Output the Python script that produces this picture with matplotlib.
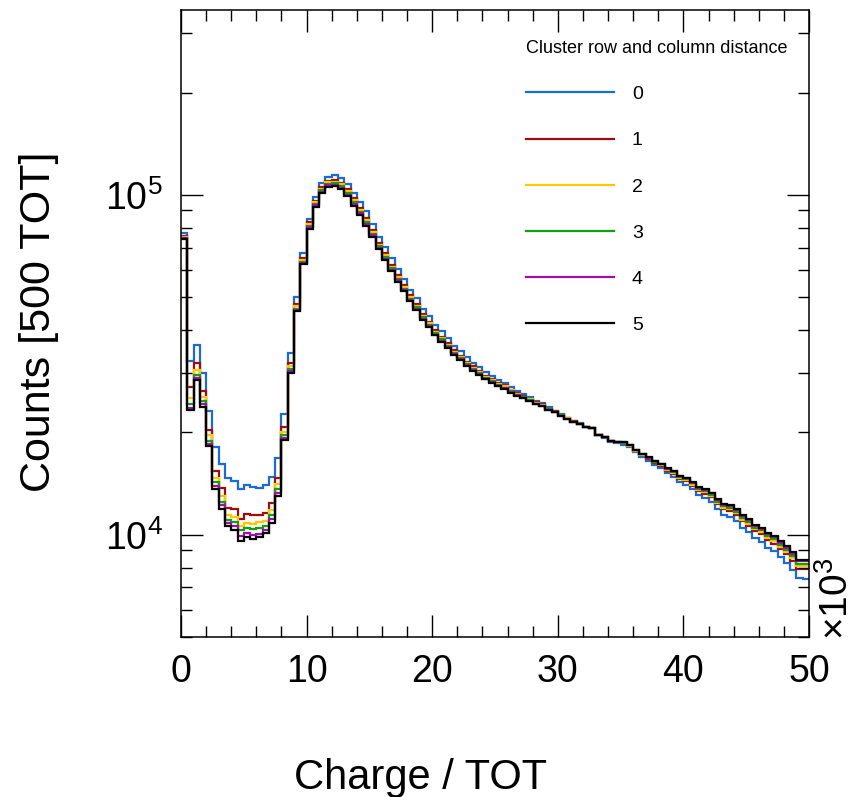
import numpy as np
import matplotlib
matplotlib.use("Agg")
import matplotlib.pyplot as plt
from matplotlib.ticker import MultipleLocator, LogLocator, NullFormatter

plt.rcParams['font.family'] = ['Liberation Sans', 'DejaVu Sans']
plt.rcParams['mathtext.fontset'] = 'custom'
plt.rcParams['mathtext.rm'] = 'Liberation Sans'
plt.rcParams['mathtext.default'] = 'regular'

# 100 bins of 500 TOT, x axis in units of 10^3 TOT
bin_edges = np.linspace(0, 50, 101)

labels = ['0', '1', '2', '3', '4', '5']
colors = ['#1a6ad8', '#a00c0c', '#ffc800', '#10a010', '#a010a8', '#000000']

dist0 = [77000, 32400, 36200, 29900, 23100, 18100, 16200, 14700, 14400, 13600,
         14000, 13800, 13700, 14000, 14800, 16800, 22600, 34200, 50000, 67300,
         85000, 98300, 108200, 113200, 114500, 112000, 107500, 101600, 95200, 89400,
         82200, 75400, 70200, 65000, 60400, 56400, 52600, 49600, 46300, 43900,
         41500, 39700, 37800, 36000, 34700, 33300, 32100, 31200, 30200, 29300,
         28500, 28000, 27200, 26500, 26000, 25400, 24800, 24400, 23700, 23200,
         22700, 22100, 21600, 21300, 20700, 20560, 19600, 19260, 18710, 18570,
         18420, 18090, 17460, 16940, 16510, 16090, 15730, 15180, 14830, 14290,
         14040, 13600, 13070, 12820, 12490, 11870, 11450, 11310, 10980, 10480,
         10160, 9760, 9540, 9150, 8940, 8600, 8260, 7890, 7440, 7390]

dist1 = [75500, 27200, 32100, 26500, 20300, 15400, 13700, 12000, 11900, 11100,
         11500, 11400, 11450, 11600, 12400, 14700, 20700, 32000, 47800, 65100,
         83100, 96200, 105400, 110200, 110500, 108700, 104000, 97800, 91600, 85300,
         78800, 72300, 67300, 62300, 58000, 54200, 50600, 47800, 44600, 42400,
         40000, 38300, 36600, 34900, 33600, 32300, 31300, 30400, 29400, 28700,
         27900, 27500, 26700, 26100, 25600, 25100, 24500, 24200, 23500, 23100,
         22500, 22000, 21600, 21200, 20700, 20580, 19650, 19330, 18810, 18690,
         18560, 18240, 17630, 17120, 16710, 16290, 15970, 15440, 15120, 14590,
         14370, 13950, 13430, 13210, 12890, 12290, 11880, 11750, 11440, 10940,
         10630, 10230, 10020, 9630, 9420, 9070, 8750, 8380, 7940, 7910]

dist2 = [75000, 25200, 30600, 25500, 19600, 14700, 12970, 11450, 11300, 10600,
         10800, 10770, 10900, 11000, 11800, 14100, 20100, 31300, 47000, 64400,
         82000, 95000, 104300, 108900, 109300, 107300, 102600, 96300, 90300, 84100,
         77800, 71400, 66400, 61500, 57300, 53500, 50000, 47200, 44100, 41900,
         39600, 37900, 36200, 34600, 33300, 32100, 31000, 30200, 29200, 28500,
         27700, 27300, 26600, 25900, 25500, 25000, 24400, 24100, 23400, 23000,
         22500, 22000, 21500, 21200, 20700, 20590, 19670, 19350, 18830, 18720,
         18600, 18290, 17680, 17170, 16760, 16360, 16040, 15520, 15200, 14690,
         14470, 14050, 13540, 13330, 13020, 12410, 12000, 11890, 11580, 11080,
         10770, 10370, 10170, 9770, 9560, 9220, 8900, 8530, 8090, 8070]

dist3 = [74800, 24300, 29600, 24700, 18900, 14300, 12500, 11070, 10900, 10300,
         10460, 10400, 10460, 10600, 11400, 13600, 19700, 30700, 46300, 63500,
         81000, 94000, 103300, 107700, 108200, 106100, 101300, 95000, 89200, 83000,
         76900, 70600, 65700, 60900, 56700, 53000, 49500, 46700, 43600, 41500,
         39200, 37600, 35900, 34300, 33100, 31800, 30800, 30000, 29000, 28300,
         27600, 27100, 26400, 25800, 25400, 24900, 24300, 24000, 23400, 23000,
         22500, 21900, 21500, 21200, 20700, 20600, 19680, 19370, 18860, 18750,
         18640, 18330, 17730, 17220, 16810, 16410, 16100, 15590, 15270, 14770,
         14550, 14150, 13640, 13430, 13120, 12520, 12110, 12000, 11700, 11200,
         10890, 10490, 10290, 9890, 9690, 9340, 9020, 8660, 8220, 8210]

dist4 = [74500, 23600, 28900, 24300, 18500, 13900, 12200, 10800, 10600, 9900,
         10100, 10000, 10070, 10350, 11100, 13300, 19300, 30300, 45800, 63100,
         80200, 93200, 102300, 106700, 107200, 105000, 100200, 93800, 88200, 81900,
         76000, 69700, 64900, 60100, 56000, 52400, 48900, 46200, 43200, 41100,
         38800, 37200, 35600, 34000, 32800, 31600, 30500, 29700, 28800, 28100,
         27400, 27000, 26300, 25700, 25300, 24800, 24300, 23900, 23300, 22900,
         22400, 21900, 21500, 21200, 20700, 20600, 19700, 19390, 18890, 18780,
         18680, 18380, 17770, 17270, 16870, 16470, 16160, 15660, 15350, 14850,
         14650, 14240, 13740, 13540, 13240, 12630, 12230, 12130, 11830, 11330,
         11020, 10620, 10420, 10020, 9820, 9470, 9160, 8800, 8360, 8360]

dist5 = [74300, 23300, 28600, 23800, 18200, 13600, 11900, 10600, 10300, 9600,
         9850, 9700, 9850, 10100, 10800, 13000, 19000, 30000, 45400, 62700,
         79400, 92400, 101600, 105800, 106300, 104000, 99300, 92900, 87500, 81100,
         75400, 69200, 64400, 59700, 55600, 52000, 48600, 45900, 42900, 40800,
         38600, 37000, 35400, 33800, 32600, 31400, 30400, 29600, 28700, 28000,
         27300, 26900, 26200, 25600, 25200, 24700, 24200, 23900, 23300, 22900,
         22400, 21900, 21500, 21200, 20700, 20600, 19700, 19400, 18900, 18800,
         18700, 18400, 17800, 17300, 16900, 16500, 16200, 15700, 15400, 14900,
         14700, 14300, 13800, 13600, 13300, 12700, 12300, 12200, 11900, 11400,
         11100, 10700, 10500, 10100, 9900, 9550, 9240, 8880, 8440, 8440]

series = [dist0, dist1, dist2, dist3, dist4, dist5]

fig = plt.figure(figsize=(8.58, 7.97), dpi=100)
ax = fig.add_axes([181/858, 160/797, 628/858, 627/797])

for vals, lab, col in zip(series, labels, colors):
    ax.stairs(vals, bin_edges, baseline=None, color=col, lw=1.6, label=lab)

ax.set_yscale('log')
ax.set_xlim(0, 50)
ax.set_ylim(5000, 350000)

ax.xaxis.set_major_locator(MultipleLocator(10))
ax.xaxis.set_minor_locator(MultipleLocator(2))
ax.yaxis.set_major_locator(LogLocator(base=10))
ax.yaxis.set_minor_locator(LogLocator(base=10, subs=np.arange(2, 10)))
ax.yaxis.set_minor_formatter(NullFormatter())

ax.tick_params(which='both', direction='in', top=True, right=True, width=1)
ax.tick_params(which='major', length=16)
ax.tick_params(which='minor', length=8)
ax.tick_params(axis='x', which='major', labelsize=27, pad=12)
ax.tick_params(axis='y', which='major', labelsize=27, pad=13)
for s in ax.spines.values():
    s.set_linewidth(1.1)

fig.text(39/858, 1 - 322/797, 'Counts [500 TOT]', rotation=90,
         ha='center', va='center', fontsize=31)
fig.text(421/858, 1 - 789/797, 'Charge / TOT', ha='center', va='baseline',
         fontsize=30)
fig.text(818/858, 1 - 640/797, r'$\times10^{3}$', rotation=90,
         ha='left', va='bottom', fontsize=28)

ax.legend(title='Cluster row and column distance', loc='upper left',
          bbox_to_anchor=(526/858, 1 - 40/797), bbox_transform=fig.transFigure,
          frameon=False, borderpad=0, borderaxespad=0, fontsize=14,
          title_fontsize=13, handlelength=4.5, handletextpad=0.95,
          labelspacing=1.47, alignment='left')

fig.savefig('out.png', dpi=100)
